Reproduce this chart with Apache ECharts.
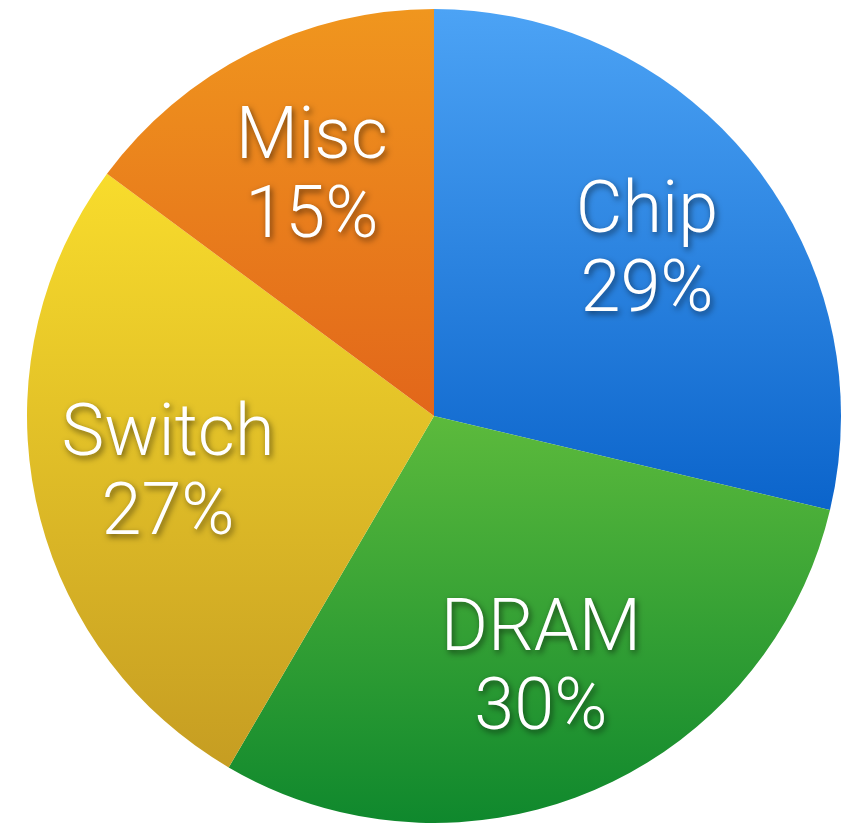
<!DOCTYPE html>
<html>
<head>
<meta charset="utf-8">
<script src="https://cdn.jsdelivr.net/npm/echarts@6/dist/echarts.min.js"></script>
<style>
html,body{margin:0;padding:0;background:#fff;}
#chart{width:853px;height:824px;}
</style>
</head>
<body>
<div id="chart"></div>
<script>
var categories = ['Chip', 'DRAM', 'Switch', 'Misc'];
var values = [29, 30, 27, 15];
var topColors = ['#4ca3f5', '#5cba3c', '#f8dc2c', '#f0961e'];
var bottomColors = ['#0b64cb', '#0f882d', '#c69d22', '#e2661a'];

var chart = echarts.init(document.getElementById('chart'));

var baseData = categories.map(function (c, i) {
  return {
    name: c,
    value: values[i],
    itemStyle: {
      color: new echarts.graphic.LinearGradient(0, 0, 0, 1, [
        { offset: 0, color: topColors[i] },
        { offset: 1, color: bottomColors[i] }
      ])
    }
  };
});
var labelData = categories.map(function (c, i) {
  return { name: c, value: values[i] };
});

var R = 407;
chart.setOption({
  animation: false,
  series: [
    {
      type: 'pie',
      center: [434, 416],
      radius: [0, R],
      startAngle: 90,
      clockwise: true,
      silent: true,
      label: { show: false },
      labelLine: { show: false },
      itemStyle: { borderWidth: 0 },
      data: baseData
    },
    {
      type: 'pie',
      center: [434, 422],
      radius: [Math.round(R * 0.32), R],
      startAngle: 90,
      clockwise: true,
      silent: true,
      itemStyle: { color: 'rgba(0,0,0,0)', borderWidth: 0 },
      labelLine: { show: false },
      label: {
        show: true,
        position: 'inside',
        formatter: '{b}\n{c}%',
        color: '#ffffff',
        fontFamily: 'Roboto, "Open Sans", sans-serif',
        fontWeight: 300,
        fontSize: 72,
        lineHeight: 79,
        textShadowColor: 'rgba(0,0,0,0.55)',
        textShadowBlur: 6,
        textShadowOffsetX: 2,
        textShadowOffsetY: 3
      },
      data: labelData
    }
  ]
});
</script>
</body>
</html>
